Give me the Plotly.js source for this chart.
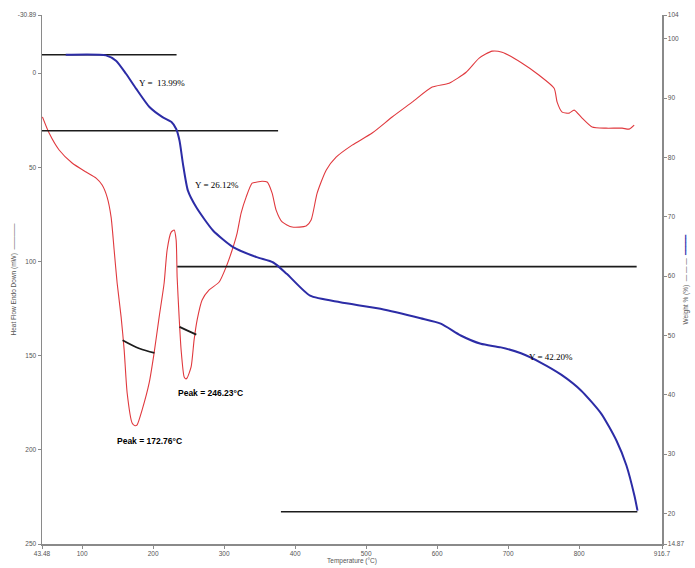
<!DOCTYPE html>
<html>
<head>
<meta charset="utf-8">
<script src="https://cdn.plot.ly/plotly-3.0.1.min.js"></script>
<style>
  html, body { margin: 0; padding: 0; background: #fff; }
  #chart { width: 695px; height: 568px; }
</style>
</head>
<body>
<div id="chart"></div>
<script>
// DSC heat flow curve (left axis, mW, endo down)
const tempHF = [44.1, 53.5, 67.6, 85.9, 105.6, 119.7, 128.2, 135.2, 140.8, 145.1, 149.3, 154.9,
  159.2, 163.4, 170.4, 174.5, 177.5, 184.5, 194.4, 201.4, 208.5, 215.5, 219.7, 225.4, 229.6,
  232.4, 233.8, 236.6, 239.4, 243.7, 246.2, 247.9, 253.5, 257.7, 262.0, 269.0, 278.9, 293.0,
  302.8, 311.3, 318.3, 323.9, 331.0, 339.4, 346.5, 353.5, 360.6, 367.6, 373.2, 381.7, 395.8,
  415.5, 422.5, 431.0, 443.7, 457.7, 480.3, 508.5, 536.6, 564.8, 593.0, 616.9, 640.8, 659.2,
  677.5, 691.5, 719.7, 743.7, 764.8, 769.0, 776.1, 786.0, 793.0, 804.2, 818.3, 838.0, 860.6,
  870.4, 877.5];
const heatFlow = [23.2, 31.8, 40.8, 47.7, 52.5, 55.7, 59.4, 65.8, 76.4, 93.9, 111.4, 129.4,
  146.9, 169.8, 185.7, 187.2, 186.7, 178.8, 164.5, 148.5, 129.4, 111.4, 93.9, 84.4, 83.3,
  88.6, 108.2, 129.4, 146.9, 161.3, 162.3, 161.8, 156.0, 141.6, 131.0, 120.4, 115.1, 110.9,
  102.9, 93.9, 84.9, 74.3, 65.8, 58.4, 57.8, 57.4, 57.8, 63.7, 72.7, 79.0, 81.7,
  81.2, 78.0, 63.7, 51.5, 44.6, 38.2, 31.8, 23.3, 15.4, 7.4, 5.3, -0.5, -8.0,
  -11.7, -11.1, -5.3, 1.1, 8.0, 15.4, 20.7, 21.2, 19.6, 23.9, 28.6, 29.2, 29.2,
  29.7, 27.6];

// TGA weight curve (right axis, %)
const tempWt = [76.9, 133.5, 147.7, 161.8, 176.0, 194.8, 213.2, 225.5, 232.5, 237.2, 241.9,
  249.0, 260.8, 284.3, 312.6, 345.7, 369.2, 388.1, 421.1, 463.5, 520.1, 576.7, 605.0, 633.2,
  661.5, 689.8, 718.1, 746.4, 774.7, 803.0, 831.3, 852.5, 866.6, 877.9, 882.2];
const weightPct = [97.3, 97.2, 96.3, 94.1, 91.6, 88.5, 86.8, 86.0, 84.8, 82.8, 79.0,
  74.4, 71.6, 67.7, 64.9, 63.2, 62.3, 60.4, 56.7, 55.6, 54.5, 52.9, 52.0, 50.0,
  48.6, 48.0, 47.0, 45.4, 43.4, 40.7, 36.8, 32.3, 28.1, 23.0, 20.5];

// Step-analysis levels on the weight axis
const stepLevel = [97.3, 84.5, 61.6, 20.3];
const stepFrom = [43.48, 43.48, 234.0, 380.0];
const stepTo = [233.0, 376.0, 881.0, 882.0];
const stepLabels = ['Y =  13.99%', 'Y = 26.12%', 'Y = 42.20%'];
const stepLabelT = [212.5, 289.9, 760.3];
const stepLabelW = [92.5, 75.4, 46.4];

// Peak integration baselines
const base1T = [157.0, 180.6, 201.8];
const base1HF = [141.8, 146.2, 148.5];
const base2T = [237.2, 248.5, 260.8];
const base2HF = [134.7, 136.7, 138.8];
const peakLabels = ['Peak = 172.76°C', 'Peak = 246.23°C'];
const peakLabelT = [194.2, 280.1];
const peakLabelHF = [195.4, 169.9];

// Axis ticks
const xTicks = [43.48, 100, 200, 300, 400, 500, 600, 700, 800, 916.7];
const xTickText = ['43.48', '100', '200', '300', '400', '500', '600', '700', '800', '916.7'];
const hfTicks = [-30.89, 0, 50, 100, 150, 200, 250];
const hfTickText = ['-30.89', '0', '50', '100', '150', '200', '250'];
const wtTicks = [14.87, 20, 30, 40, 50, 60, 70, 80, 90, 100, 104];
const wtTickText = ['14.87', '20', '30', '40', '50', '60', '70', '80', '90', '100', '104'];

const black = '#1c1c1c';
const traces = [];

stepLevel.forEach((lv, i) => {
  traces.push({
    x: [stepFrom[i], stepTo[i]], y: [lv, lv], yaxis: 'y2',
    mode: 'lines', line: { color: black, width: 1.6 }, hoverinfo: 'skip', showlegend: false
  });
});

traces.push({
  x: tempHF, y: heatFlow, mode: 'lines',
  line: { color: '#e0393e', width: 1.1, shape: 'spline', smoothing: 0.6 },
  showlegend: false
});

traces.push({
  x: base1T, y: base1HF, mode: 'lines',
  line: { color: black, width: 1.8, shape: 'spline' }, showlegend: false
});
traces.push({
  x: base2T, y: base2HF, mode: 'lines',
  line: { color: black, width: 1.8, shape: 'spline' }, showlegend: false
});

traces.push({
  x: tempWt, y: weightPct, yaxis: 'y2', mode: 'lines',
  line: { color: '#2c2ca6', width: 2, shape: 'spline', smoothing: 0.6 },
  showlegend: false
});

const annotations = [];
stepLabels.forEach((t, i) => {
  annotations.push({
    x: stepLabelT[i], y: stepLabelW[i], xref: 'x', yref: 'y2', text: t, showarrow: false,
    font: { family: 'Liberation Serif, serif', size: 9, color: '#000' }
  });
});
peakLabels.forEach((t, i) => {
  annotations.push({
    x: peakLabelT[i], y: peakLabelHF[i], xref: 'x', yref: 'y', text: '<b>' + t + '</b>',
    showarrow: false,
    font: { family: 'Liberation Sans, Arial, sans-serif', size: 8.5, color: '#000' }
  });
});

const tickFont = { family: 'Liberation Sans, Arial, sans-serif', size: 6.5, color: '#555' };
const titleFont = { family: 'Liberation Sans, Arial, sans-serif', size: 6.5, color: '#555' };

const layout = {
  width: 695, height: 568,
  margin: { l: 42, r: 33, t: 15, b: 24 },
  paper_bgcolor: '#ffffff', plot_bgcolor: '#ffffff',
  showlegend: false,
  xaxis: {
    range: [43.48, 916.7], tickvals: xTicks, ticktext: xTickText,
    showgrid: false, zeroline: false, showline: true, linecolor: '#8a8a8a', linewidth: 1.5,
    ticks: 'outside', ticklen: 3, tickcolor: '#8a8a8a', tickfont: tickFont,
    title: { text: 'Temperature (°C)', font: titleFont, standoff: 2 }
  },
  yaxis: {
    range: [250, -30.89], tickvals: hfTicks, ticktext: hfTickText,
    showgrid: false, zeroline: false, showline: true, linecolor: '#8a8a8a', linewidth: 1.5,
    ticks: 'outside', ticklen: 3, tickcolor: '#8a8a8a', tickfont: tickFont,
    title: { text: 'Heat Flow Endo Down (mW)  ————', font: titleFont, standoff: 0 }
  },
  yaxis2: {
    overlaying: 'y', side: 'right',
    range: [14.87, 104], tickvals: wtTicks, ticktext: wtTickText,
    showgrid: false, zeroline: false, showline: true, linecolor: '#8a8a8a', linewidth: 1.5,
    ticks: 'outside', ticklen: 3, tickcolor: '#8a8a8a', tickfont: tickFont,
    title: {
      text: 'Weight % (%)  — — —  <span style="color:#3a3ab0">━━━━━</span>',
      font: titleFont, standoff: 0
    }
  },
  annotations: annotations
};

Plotly.newPlot('chart', traces, layout, { staticPlot: true, displayModeBar: false });
</script>
</body>
</html>
